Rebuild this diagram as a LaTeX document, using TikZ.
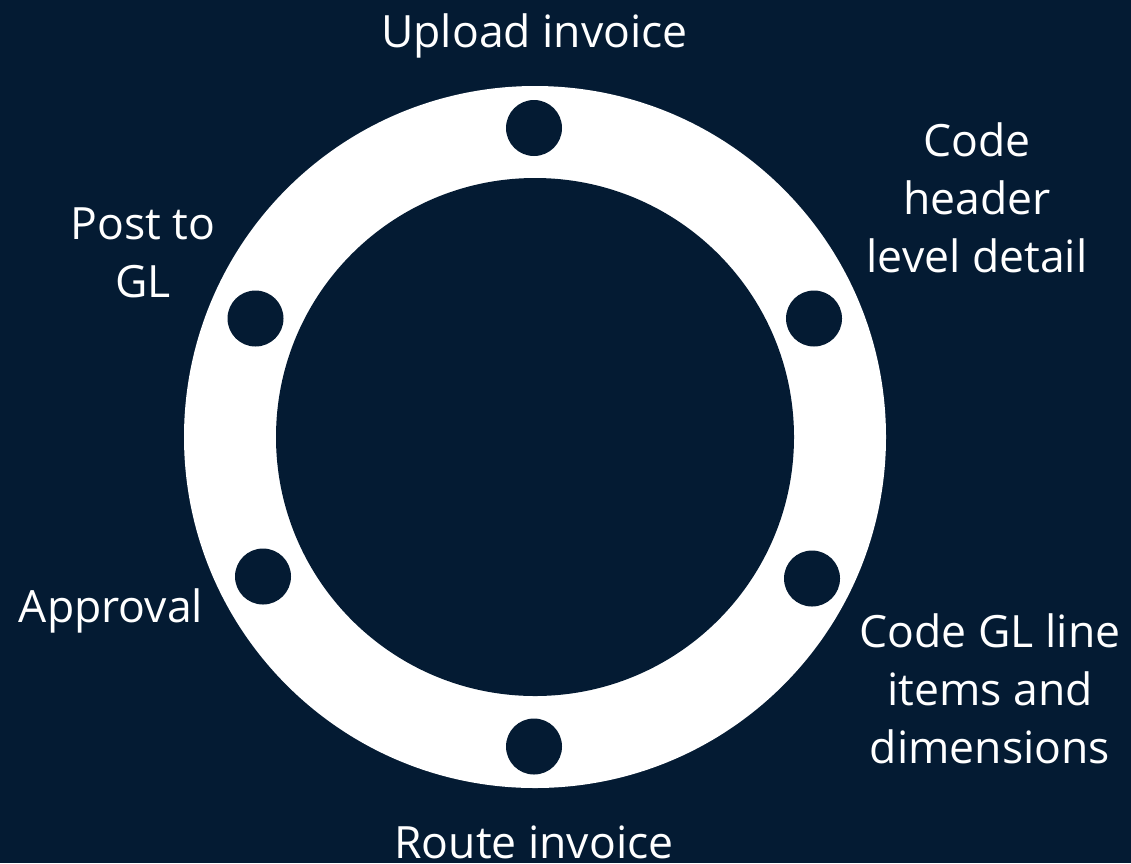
\documentclass[tikz,border=0pt]{standalone}
\usepackage{fontspec}
\setmainfont{Open Sans}
\definecolor{bg}{RGB}{4,27,51}
\begin{document}
\begin{tikzpicture}[x=1pt,y=1pt,
  dot/.style={circle,fill=bg,inner sep=0pt,minimum size=56pt},
  lbl/.style={text=white,font=\fontsize{44.5}{58}\selectfont,align=center,inner sep=0pt,anchor=base}]
\fill[bg] (0,0) rectangle (1131,-863);
\useasboundingbox (0,0) rectangle (1131,-863);
\node[circle,fill=white,inner sep=0pt,minimum size=702pt] (outer) at (535,-437) {};
\node[circle,fill=bg,inner sep=0pt,minimum size=518pt] (inner) at (535,-437) {};
\node[dot] (d1) at (534,-128) {};
\node[dot] (d2) at (814,-318.5) {};
\node[dot] (d3) at (812,-578.5) {};
\node[dot] (d4) at (534,-746.5) {};
\node[dot] (d5) at (263,-576.5) {};
\node[dot] (d6) at (255.5,-318.5) {};
\node[lbl] (t1) at (534.5,-47) {Upload invoice};
\node[lbl] (t2) at (977,-272) {Code\\header\\level detail};
\node[lbl] (t3) at (990,-763) {Code GL line\\items and\\dimensions};
\node[lbl] (t4) at (534,-858) {Route invoice};
\node[lbl] (t5) at (111,-622) {Approval};
\node[lbl] (t6) at (143,-297) {Post to\\GL};
\end{tikzpicture}
\end{document}
